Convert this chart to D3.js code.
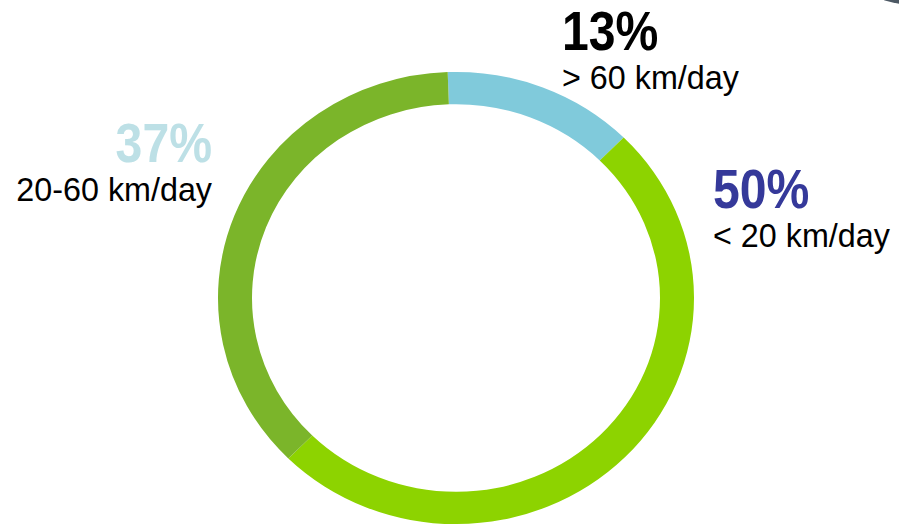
<!DOCTYPE html>
<html>
<head>
<meta charset="utf-8">
<script src="https://cdn.jsdelivr.net/npm/d3@7"></script>
<style>
  html, body { margin: 0; padding: 0; background: #fff; }
  svg { display: block; }
  text { font-family: "Liberation Sans", Arial, sans-serif; }
</style>
</head>
<body>
<div id="viz-wrapper"></div>
<script>
let width = 899,
    height = 527;

// data
let categories = ['> 60 km/day', '< 20 km/day', '20-60 km/day'];
let shares = [13, 50, 37];
let pctLabels = ['13%', '50%', '37%'];
let sliceColors = ['#80cadb', '#8dd300', '#7bb52a'];
let pctColors = ['#000000', '#35399a', '#bde0e6'];

// layout of the ring
let cx = 456, cy = 298;
let outerR = 238, innerR = 204;
let squash = 0.95;

let svg = d3.select('#viz-wrapper')
  .append('svg')
  .attr('width', width)
  .attr('height', height);

// bit of a dark shape peeking in at the top right corner
svg.append('ellipse')
  .attr('cx', 945).attr('cy', -18)
  .attr('rx', 85).attr('ry', 26)
  .attr('fill', '#2e3c49')
  .attr('opacity', 0.85);

let pie = d3.pie()
  .sort(null)
  .startAngle(-0.035)
  .endAngle(2 * Math.PI - 0.035);

let arc = d3.arc()
  .innerRadius(innerR)
  .outerRadius(outerR);

let ring = svg.append('g')
  .attr('transform', 'translate(' + cx + ',' + cy + ') scale(1,' + squash + ')');

ring.selectAll('path.slice')
  .data(pie(shares))
  .enter()
  .append('path')
  .attr('class', 'slice')
  .attr('d', arc)
  .attr('fill', function(d, i) { return sliceColors[i]; });

// labels: x, baseline of the percentage, anchor
let labelPos = [
  {x: 562, y: 50, anchor: 'start'},
  {x: 713, y: 208, anchor: 'start'},
  {x: 212, y: 162, anchor: 'end'}
];

let labels = svg.selectAll('g.label')
  .data(categories)
  .enter()
  .append('g')
  .attr('class', 'label')
  .attr('transform', function(d, i) {
    return 'translate(' + labelPos[i].x + ',' + labelPos[i].y + ')';
  });

labels.append('text')
  .attr('transform', 'scale(0.86,1)')
  .attr('text-anchor', function(d, i) { return labelPos[i].anchor; })
  .style('font-size', '56px')
  .style('font-weight', 'bold')
  .style('fill', function(d, i) { return pctColors[i]; })
  .text(function(d, i) { return pctLabels[i]; });

labels.append('text')
  .attr('transform', 'translate(0,39) scale(0.95,1)')
  .attr('text-anchor', function(d, i) { return labelPos[i].anchor; })
  .style('font-size', '34px')
  .style('fill', '#000')
  .text(function(d) { return d; });
</script>
</body>
</html>
